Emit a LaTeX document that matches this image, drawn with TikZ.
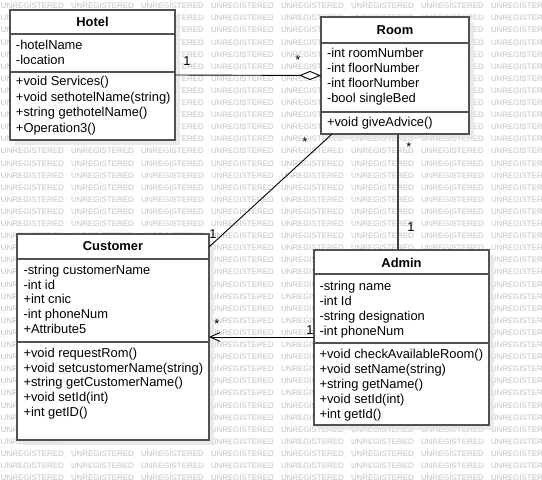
\documentclass[tikz,border=0pt]{standalone}
\usepackage{fontspec}
\setmainfont{Liberation Sans}
\usetikzlibrary{arrows.meta,shadows}
\begin{document}
\begin{tikzpicture}[x=1pt,y=-1pt,
  every node/.style={inner sep=0pt, outer sep=0pt},
  txt/.style={anchor=base west, font=\fontsize{12.9}{15}\selectfont},
  ttl/.style={anchor=base, font=\fontsize{12.9}{15}\selectfont\bfseries},
  mult/.style={anchor=center, font=\fontsize{12.9}{15}\selectfont},
  wm/.style={anchor=west, font=\fontsize{7.9}{8}\selectfont, text=black!24},
  classbox/.style={draw=black!68, line width=1.6pt, fill=white, rectangle,
    drop shadow={shadow xshift=5pt, shadow yshift=-5pt, fill=black!10, opacity=0.8}},
  sep/.style={draw=black!68, line width=1.6pt},
  conn/.style={draw=black, line width=0.9pt}]
\useasboundingbox (0,0) rectangle (542,480);
\fill[white] (0,0) rectangle (542,480);
% watermark (only the copies that are not fully hidden by a class box)
\foreach \r in {0,...,39} {\foreach \c in {0,...,7} {
  \pgfmathsetmacro{\wx}{1+70*\c}
  \pgfmathsetmacro{\wy}{6+12.1*\r}
  \pgfmathtruncatemacro{\hide}{
    ((\wx>=10) && (\wx+63<=180) && (\wy>=13) && (\wy<=142)) ||
    ((\wx>=321) && (\wx+63<=474) && (\wy>=20) && (\wy<=136)) ||
    ((\wx>=17) && (\wx+63<=214) && (\wy>=237) && (\wy<=442)) ||
    ((\wx>=314) && (\wx+63<=494) && (\wy>=253) && (\wy<=427))}
  \ifnum\hide=0
    \node[wm] (wm-\r-\c) at (\wx,\wy) {UNREGISTERED};
  \fi}}

% Hotel
\node[classbox, minimum width=165pt, minimum height=130pt] (hotel) at (92.5,75) {};
\draw[sep] (hotel.west |- 0,34) -- (hotel.east |- 0,34);
\draw[sep] (hotel.west |- 0,72) -- (hotel.east |- 0,72);
\node[ttl] (hotelT) at (92.5,26.5) {Hotel};
\node[txt] (h1) at (16,49.5) {-hotelName};
\node[txt] (h2) at (16,64.5) {-location};
\node[txt] (h3) at (16,85.5) {+void Services()};
\node[txt] (h4) at (16,101) {+void sethotelName(string)};
\node[txt] (h5) at (16,116.5) {+string gethotelName()};
\node[txt] (h6) at (16,132) {+Operation3()};

% Room
\node[classbox, minimum width=148pt, minimum height=117pt] (room) at (395,75.5) {};
\draw[sep] (room.west |- 0,43) -- (room.east |- 0,43);
\draw[sep] (room.west |- 0,112) -- (room.east |- 0,112);
\node[ttl] (roomT) at (395,34.5) {Room};
\node[txt] (r1) at (327,57.5) {-int roomNumber};
\node[txt] (r2) at (327,72.5) {-int floorNumber};
\node[txt] (r3) at (327,87.5) {-int floorNumber};
\node[txt] (r4) at (327,102.5) {-bool singleBed};
\node[txt] (r5) at (327,126.5) {+void giveAdvice()};

% Customer
\node[classbox, minimum width=192pt, minimum height=206pt] (customer) at (113,337) {};
\draw[sep] (customer.west |- 0,259) -- (customer.east |- 0,259);
\draw[sep] (customer.west |- 0,342) -- (customer.east |- 0,342);
\node[ttl] (custT) at (113,250.5) {Customer};
\node[txt] (c1) at (23.5,274.5) {-string customerName};
\node[txt] (c2) at (23.5,289) {-int id};
\node[txt] (c3) at (23.5,303.5) {+int cnic};
\node[txt] (c4) at (23.5,318.5) {-int phoneNum};
\node[txt] (c5) at (23.5,333.5) {+Attribute5};
\node[txt] (c6) at (23.5,357.5) {+void requestRom()};
\node[txt] (c7) at (23.5,372) {+void setcustomerName(string)};
\node[txt] (c8) at (23.5,386.5) {+string getCustomerName()};
\node[txt] (c9) at (23.5,401.5) {+void setId(int)};
\node[txt] (c10) at (23.5,416.5) {+int getID()};

% Admin
\node[classbox, minimum width=175pt, minimum height=175pt] (admin) at (401.5,337.5) {};
\draw[sep] (admin.west |- 0,274) -- (admin.east |- 0,274);
\draw[sep] (admin.west |- 0,343) -- (admin.east |- 0,343);
\node[ttl] (admT) at (401.5,267.5) {Admin};
\node[txt] (a1) at (319.5,290.5) {-string name};
\node[txt] (a2) at (319.5,305) {-int Id};
\node[txt] (a3) at (319.5,320.5) {-string designation};
\node[txt] (a4) at (319.5,335.5) {-int phoneNum};
\node[txt] (a5) at (319.5,358.5) {+void checkAvailableRoom()};
\node[txt] (a6) at (319.5,373.5) {+void setName(string)};
\node[txt] (a7) at (319.5,388.5) {+string getName()};
\node[txt] (a8) at (319.5,403.5) {+void setId(int)};
\node[txt] (a9) at (319.5,418.5) {+int getId()};

% connector endpoints
\coordinate (rc1) at (332,134);
\coordinate (rc2) at (209,247);
\coordinate (ra1) at (398,134);
\coordinate (ra2) at (398,250);
\coordinate (ac1) at (314,337);
\coordinate (ac2) at (209,337);

% connectors
\draw[conn, -{Diamond[fill=white, length=22pt, width=9pt, line width=0.9pt]}] (hotel.east) -- (room.west);
\draw[conn] (rc1) -- (rc2);
\draw[conn, draw=black!75, line width=1.2pt] (ra1) -- (ra2);
\draw[conn, -{Straight Barb[length=10pt, width=9pt]}] (ac1) -- (ac2);

% multiplicities
\node[mult] (m1) at (187,61) {1};
\node[mult] (m2) at (298,60) {*};
\node[mult] (m3) at (305,142) {*};
\node[mult] (m4) at (213,234) {1};
\node[mult] (m5) at (409,147) {*};
\node[mult] (m6) at (411,227) {1};
\node[mult] (m7) at (217,324) {*};
\node[mult] (m8) at (310,330) {1};
\end{tikzpicture}
\end{document}
